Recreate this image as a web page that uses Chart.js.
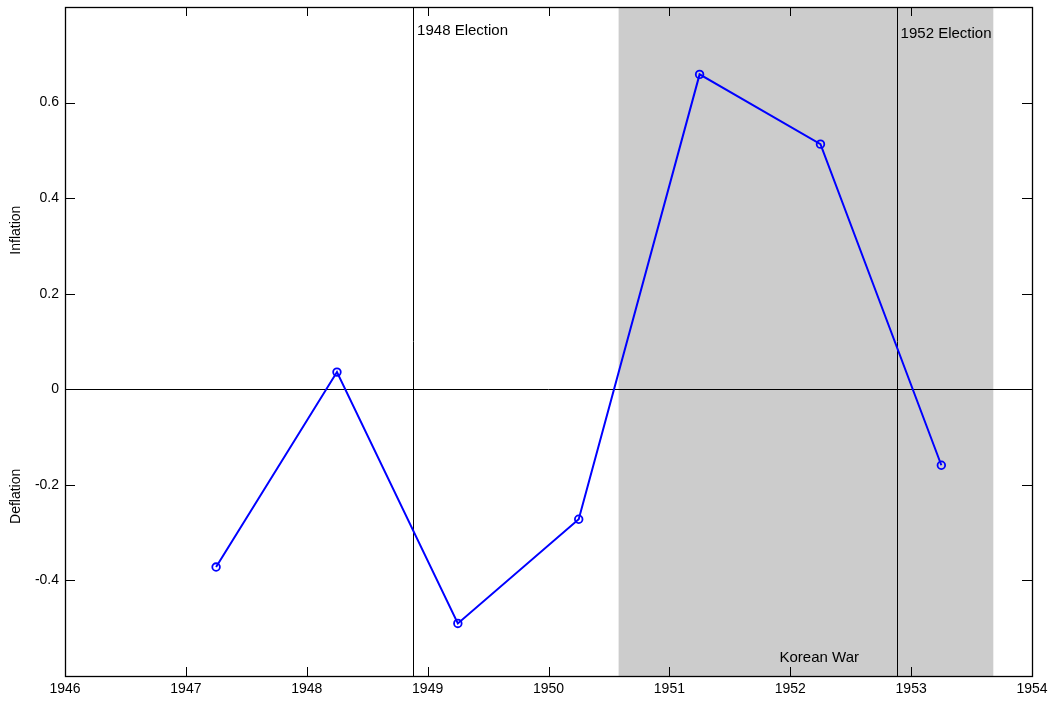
<!DOCTYPE html>
<html>
<head>
<meta charset="utf-8">
<script src="https://cdn.jsdelivr.net/npm/chart.js@4"></script>
<style>
  html, body { margin: 0; padding: 0; background: #fff; }
  #wrap { width: 1051px; height: 702px; }
</style>
</head>
<body>
<div id="wrap"><canvas id="infl" width="1051" height="702"></canvas></div>
<script>
  // values
  const years = [1947.25, 1948.25, 1949.25, 1950.25, 1951.25, 1952.25, 1953.25];
  const inflation = [-0.372, 0.036, -0.49, -0.272, 0.659, 0.513, -0.159];
  const xTicks = [1946, 1947, 1948, 1949, 1950, 1951, 1952, 1953, 1954];
  const yTicks = [-0.6, -0.4, -0.2, 0, 0.2, 0.4, 0.6, 0.8];
  const yLabelled = [-0.4, -0.2, 0, 0.2, 0.4, 0.6];
  const warSpan = [1950.58, 1953.68];
  const warLabel = { x: 1952.24, y: -0.561, text: 'Korean War' };
  const electionX = [1948.88, 1952.88];
  const electionLabels = ['1948 Election', '1952 Election'];
  const electionLabelY = [0.75, 0.743];
  const sideWords = [['Inflation', 0.333], ['Deflation', -0.224]];

  Chart.defaults.font.family = '"Liberation Sans", Arial, sans-serif';
  Chart.defaults.font.size = 14;
  Chart.defaults.color = '#000';

  const decor = {
    id: 'decor',
    beforeDatasetsDraw(chart) {
      const { ctx, chartArea: a, scales: { x, y } } = chart;
      ctx.save();
      // Korean war shading
      ctx.fillStyle = '#cccccc';
      const x0 = x.getPixelForValue(warSpan[0]), x1 = x.getPixelForValue(warSpan[1]);
      ctx.fillRect(x0, a.top, x1 - x0, a.bottom - a.top);

      // zero line + election lines
      ctx.strokeStyle = '#000';
      ctx.lineWidth = 1;
      const y0 = Math.round(y.getPixelForValue(0)) + 0.5;
      ctx.beginPath();
      ctx.moveTo(a.left, y0); ctx.lineTo(a.right, y0);
      electionX.forEach(v => {
        const px = Math.round(x.getPixelForValue(v)) + 0.5;
        ctx.moveTo(px, a.top); ctx.lineTo(px, a.bottom);
      });
      ctx.stroke();

      // texts
      ctx.fillStyle = '#000';
      ctx.font = '15px "Liberation Sans", Arial, sans-serif';
      ctx.textBaseline = 'middle';
      ctx.textAlign = 'left';
      electionX.forEach((v, i) => {
        ctx.fillText(electionLabels[i], x.getPixelForValue(v) + 4, y.getPixelForValue(electionLabelY[i]));
      });
      ctx.textAlign = 'center';
      ctx.fillText(warLabel.text, x.getPixelForValue(warLabel.x), y.getPixelForValue(warLabel.y));
      ctx.restore();
    },
    afterDraw(chart) {
      const { ctx, chartArea: a, scales: { x, y } } = chart;
      ctx.save();
      ctx.strokeStyle = '#000';
      ctx.lineWidth = 1;
      ctx.beginPath();
      // inward ticks on all four sides
      xTicks.forEach(v => {
        const px = Math.round(x.getPixelForValue(v)) + 0.5;
        ctx.moveTo(px, a.bottom); ctx.lineTo(px, a.bottom - 9);
        ctx.moveTo(px, a.top); ctx.lineTo(px, a.top + 9);
      });
      yTicks.forEach(v => {
        const py = Math.round(y.getPixelForValue(v)) + 0.5;
        ctx.moveTo(a.left, py); ctx.lineTo(a.left + 10, py);
        ctx.moveTo(a.right, py); ctx.lineTo(a.right - 10, py);
      });
      ctx.stroke();
      ctx.lineWidth = 1.3;
      ctx.strokeRect(Math.round(a.left) + 0.5, Math.round(a.top) + 0.5,
        Math.round(a.right - a.left), Math.round(a.bottom - a.top));

      // side words
      ctx.fillStyle = '#000';
      ctx.font = '14px "Liberation Sans", Arial, sans-serif';
      ctx.textAlign = 'center';
      ctx.textBaseline = 'middle';
      sideWords.forEach(([t, v]) => {
        ctx.save();
        ctx.translate(16, y.getPixelForValue(v));
        ctx.rotate(-Math.PI / 2);
        ctx.fillText(t, 0, 0);
        ctx.restore();
      });
      ctx.restore();
    }
  };

  const ctx = document.getElementById('infl').getContext('2d');
  new Chart(ctx, {
    type: 'line',
    data: {
      datasets: [{
        data: years.map((yr, i) => ({ x: yr, y: inflation[i] })),
        borderColor: '#0000ff',
        borderWidth: 2,
        pointStyle: 'circle',
        pointRadius: 3.8,
        pointBorderWidth: 1.8,
        pointBorderColor: '#0000ff',
        pointBackgroundColor: 'rgba(0,0,0,0)',
        tension: 0
      }]
    },
    options: {
      responsive: false,
      animation: false,
      layout: { padding: { top: 7, right: 19, left: 0, bottom: 0 } },
      plugins: { legend: { display: false }, tooltip: { enabled: false } },
      scales: {
        x: {
          type: 'linear',
          min: 1946, max: 1954,
          grid: { display: false, drawTicks: false },
          border: { display: false },
          afterBuildTicks: s => { s.ticks = xTicks.map(v => ({ value: v })); },
          afterFit: s => { s.height = 26; s.paddingLeft = 0; s.paddingRight = 0; },
          ticks: { padding: 5, maxRotation: 0, autoSkip: false, callback: v => String(v) }
        },
        y: {
          type: 'linear',
          min: -0.6, max: 0.8,
          grid: { display: false, drawTicks: false },
          border: { display: false },
          afterBuildTicks: s => { s.ticks = yTicks.map(v => ({ value: v })); },
          afterFit: s => { s.width = 65; s.paddingTop = 0; s.paddingBottom = 0; },
          ticks: {
            padding: 6,
            autoSkip: false,
            callback: v => {
              const r = Math.round(v * 10) / 10;
              return yLabelled.some(l => Math.abs(l - r) < 1e-9) ? String(r) : '';
            }
          }
        }
      }
    },
    plugins: [decor]
  });
</script>
</body>
</html>
